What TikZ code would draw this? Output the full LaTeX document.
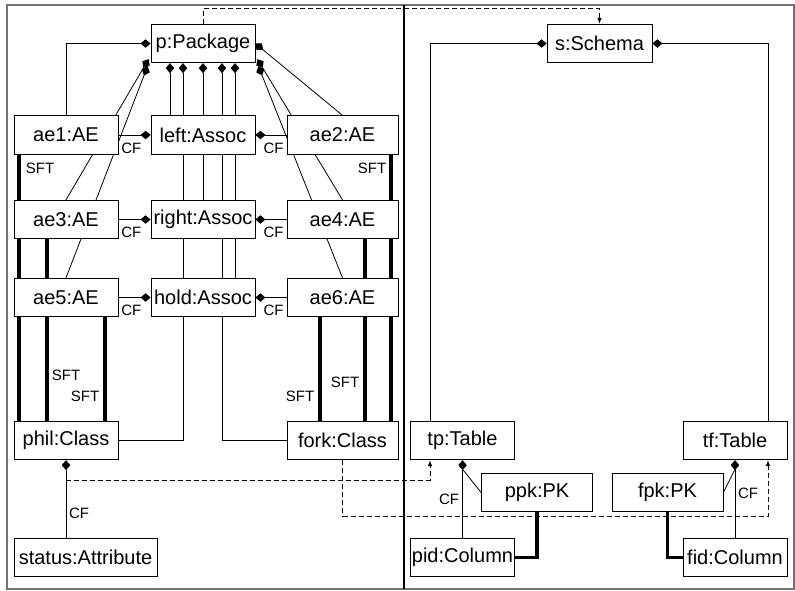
\documentclass[tikz,border=0pt]{standalone}
\usepackage{fontspec}
\setmainfont{Liberation Sans}
\usetikzlibrary{arrows.meta, backgrounds}
\definecolor{framegray}{gray}{0.45}

\begin{document}
\begin{tikzpicture}[x=1pt,y=-1pt,
  obj/.style={draw=black,fill=white,line width=0.8pt,minimum width=104pt,minimum height=38.5pt,inner sep=0pt,font=\fontsize{20}{24}\selectfont},
  wide/.style={obj,minimum width=111pt},
  plain/.style={draw=black,line width=0.8pt},
  comp/.style={plain,-{Diamond[length=10pt,width=8.5pt]}},
  sft/.style={draw=black,line width=3.5pt},
  trace/.style={plain,dash pattern=on 5pt off 3pt,-{Latex[length=6pt,width=4.5pt]}},
  lbl/.style={inner sep=0pt,font=\fontsize{15}{17}\selectfont}]
\useasboundingbox (0,0) rectangle (795,590);
\draw[framegray,line width=1.5pt] (7,5) rectangle (794,589);
\draw[line width=1.4pt] (404,5) -- (404,589);

\node[obj] (Package) at (203,43.5) {p:Package};
\node[obj,minimum width=105pt] (Schema) at (599.5,43.5) {s:Schema};

\node[obj] (AeOne) at (66,135) {ae1:AE};
\node[obj] (LeftAssoc) at (203,135) {left:Assoc};
\node[wide] (AeTwo) at (342.5,135) {ae2:AE};
\node[obj] (AeThree) at (66,219.5) {ae3:AE};
\node[obj] (RightAssoc) at (203,219.5) {right:Assoc};
\node[wide] (AeFour) at (342.5,219.5) {ae4:AE};
\node[obj] (AeFive) at (66,297.5) {ae5:AE};
\node[obj] (HoldAssoc) at (203,297.5) {hold:Assoc};
\node[wide] (AeSix) at (342.5,297.5) {ae6:AE};

\node[obj] (PhilClass) at (66,440.5) {phil:Class};
\node[wide] (ForkClass) at (342.5,440.5) {fork:Class};
\node[obj,minimum width=143pt] (StatusAttr) at (85.5,557.5) {status:Attribute};

\node[obj] (TpTable) at (462.5,440.5) {tp:Table};
\node[obj] (TfTable) at (735,440.5) {tf:Table};
\node[wide] (PpkKey) at (537,492.5) {ppk:PK};
\node[wide] (FpkKey) at (667.5,492.5) {fpk:PK};
\node[obj] (PidColumn) at (462.5,557.5) {pid:Column};
\node[obj] (FidColumn) at (735,557.5) {fid:Column};

\begin{scope}[on background layer]
\draw[comp] (AeOne.north) |- (Package.west);
\draw[comp] (AeThree.north) -- ([shift={(-2,-4)}]Package.south west);
\draw[comp] (AeFive.north) -- ([shift={(-3,3)}]Package.south west);
\draw[comp] (AeTwo.north) -- (Package.east);
\draw[comp] (AeFour.north) -- ([shift={(2,-4)}]Package.south east);
\draw[comp] (AeSix.north) -- ([shift={(3,3)}]Package.south east);

\draw[comp] ([xshift=-33pt]LeftAssoc.north) -- ([xshift=-33pt]Package.south);
\draw[comp] (RightAssoc.north) -- (Package.south);
\draw[comp] ([xshift=32pt]HoldAssoc.north) -- ([xshift=32pt]Package.south);
\draw[comp] (PhilClass.east) -| ([xshift=-20pt]Package.south);
\draw[comp] (ForkClass.west) -| ([xshift=19pt]Package.south);

\foreach \ae/\as/\i in {AeOne/LeftAssoc/1,AeThree/RightAssoc/2,AeFive/HoldAssoc/3} {
  \draw[comp] (\ae.east) -- (\as.west);
  \node[lbl] (CfLeft\i) at ([shift={(13,13)}]\ae.east) {CF};
}
\foreach \ae/\as/\i in {AeTwo/LeftAssoc/1,AeFour/RightAssoc/2,AeSix/HoldAssoc/3} {
  \draw[comp] (\ae.west) -- (\as.east);
  \node[lbl] (CfRight\i) at ([shift={(-13,13)}]\ae.west) {CF};
}

\draw[sft] ([xshift=-47pt]AeOne.south) -- ([xshift=-47pt]PhilClass.north);
\draw[sft] ([xshift=-19pt]AeThree.south) -- ([xshift=-19pt]PhilClass.north);
\draw[sft] ([xshift=39pt]AeFive.south) -- ([xshift=39pt]PhilClass.north);
\draw[sft] ([xshift=48.5pt]AeTwo.south) -- ([xshift=48.5pt]ForkClass.north);
\draw[sft] ([xshift=22.5pt]AeFour.south) -- ([xshift=22.5pt]ForkClass.north);
\draw[sft] ([xshift=-22.5pt]AeSix.south) -- ([xshift=-22.5pt]ForkClass.north);
\node[lbl] (SftOne) at (40,168) {SFT};
\node[lbl] (SftThree) at (66,375) {SFT};
\node[lbl] (SftFive) at (85,396) {SFT};
\node[lbl] (SftTwo) at (372,168) {SFT};
\node[lbl] (SftFour) at (345,382) {SFT};
\node[lbl] (SftSix) at (300,396) {SFT};

\draw[comp] (StatusAttr.north -| PhilClass.south) -- (PhilClass.south);
\node[lbl] (CfStatus) at (79,513) {CF};

\draw[comp] ([xshift=-32.5pt]TpTable.north) |- (Schema.west);
\draw[comp] ([xshift=33pt]TfTable.north) |- (Schema.east);
\draw[comp] (PidColumn.north) -- (TpTable.south);
\draw[plain] (PpkKey.west) -- ([yshift=-9pt]TpTable.south);
\node[lbl] (CfPid) at (449,499) {CF};
\draw[comp] (FidColumn.north) -- (TfTable.south);
\draw[plain] (FpkKey.east) -- ([yshift=-9pt]TfTable.south);
\node[lbl] (CfFid) at (748,493) {CF};
\draw[sft] (PpkKey.south) |- (PidColumn.east);
\draw[sft] (FpkKey.south) |- (FidColumn.west);

\draw[trace] (Package.north) -- ++(0,-15) -| (Schema.north);
\draw[trace] ([yshift=-20pt]PhilClass.south) -| ([xshift=-32.5pt]TpTable.south);
\draw[trace] (ForkClass.south) -- ++(0,56) -| ([xshift=33pt]TfTable.south);
\end{scope}
\end{tikzpicture}
\end{document}
